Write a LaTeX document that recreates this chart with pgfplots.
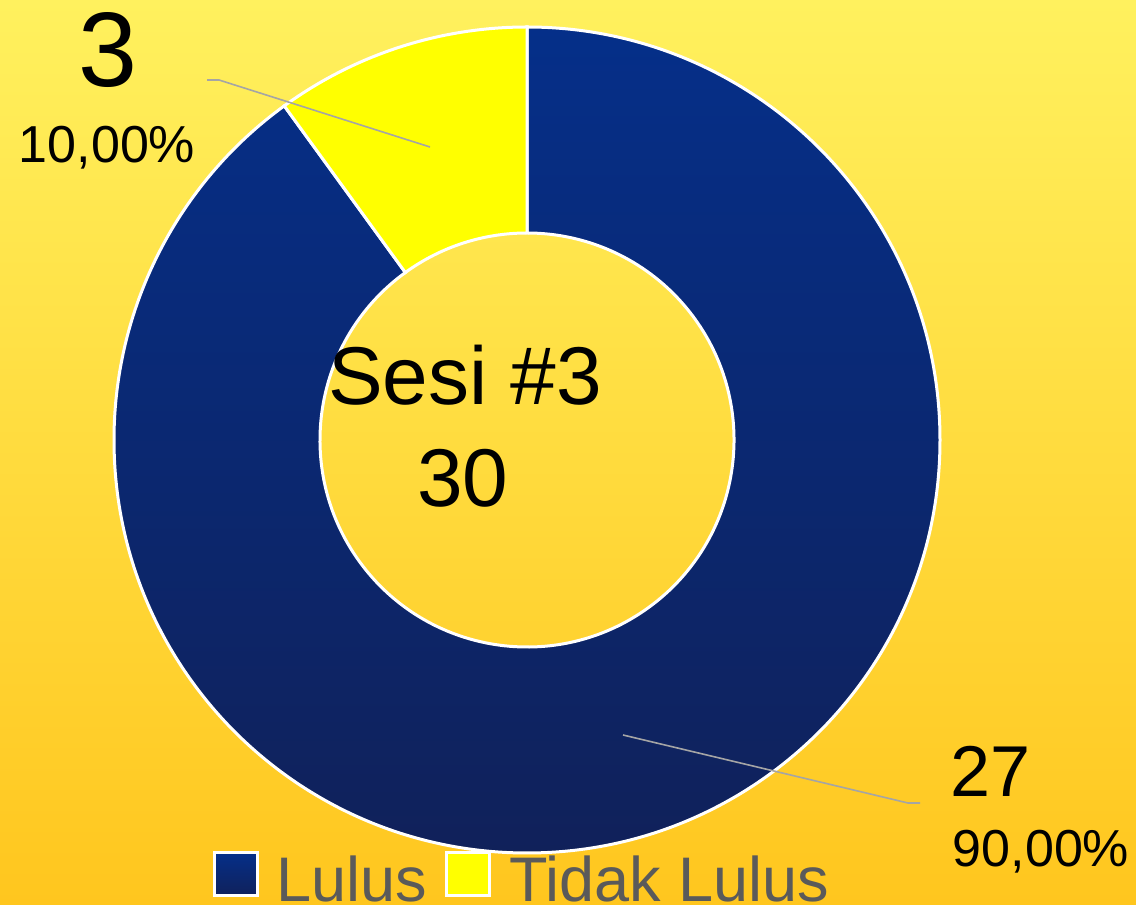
\documentclass[border=0pt]{standalone}
\usepackage{pgfplots}
\pgfplotsset{compat=1.18}
\usepackage{pgfplotstable}
\usepackage{fontspec}
\setmainfont{Liberation Sans}
\definecolor{bgtop}{RGB}{255,241,94}
\definecolor{bgbot}{RGB}{255,198,30}
\definecolor{bluetop}{RGB}{5,47,137}
\definecolor{bluebot}{RGB}{16,33,90}
\definecolor{ylw}{RGB}{255,255,0}
\definecolor{leader}{RGB}{165,165,165}
\definecolor{legtext}{RGB}{90,90,90}
\pgfplotstableread{
label value
Lulus 27
TidakLulus 3
}\datatable
\begin{document}
\begin{tikzpicture}
\pgfplotstablegetelem{0}{value}\of\datatable \let\vA\pgfplotsretval
\pgfplotstablegetelem{1}{value}\of\datatable \let\vB\pgfplotsretval
\pgfmathsetmacro\tot{\vA+\vB}
\pgfmathtruncatemacro\totint{\tot}
\pgfmathsetmacro\angA{90-360*\vA/\tot}
\pgfmathsetmacro\angB{\angA-360*\vB/\tot}
\pgfmathsetmacro\pA{100*\vA/\tot}
\pgfmathsetmacro\pB{100*\vB/\tot}
\begin{axis}[
  scale only axis, x=1pt, y=1pt,
  xmin=0, xmax=1136, ymin=0, ymax=905,
  hide axis,
  clip=false,
  legend columns=2,
  legend style={at={(axis cs:522,27)}, anchor=center, draw=none, fill=none,
    font=\fontsize{63}{63}\selectfont, text=legtext,
    /tikz/every odd column/.append style={column sep=16pt},
    /tikz/every even column/.append style={column sep=16pt},
    cells={anchor=west}},
  legend image code/.code={\draw[#1, line width=3pt] (0pt,-17pt) rectangle (43pt,26pt);},
]
\fill[top color=bgtop, bottom color=bgbot] (axis cs:0,0) rectangle (axis cs:1136,905);
\coordinate (c) at (axis cs:527,465);
% Lulus
\shadedraw[top color=bluetop, bottom color=bluebot, draw=white, line width=3pt]
  (c) ++(90:413pt) arc[start angle=90, end angle=\angA, radius=413pt]
  -- ++(\angA:-206pt) arc[start angle=\angA, end angle=90, radius=207pt] -- cycle;
% Tidak Lulus
\filldraw[fill=ylw, draw=white, line width=3pt]
  (c) ++(\angA:413pt) arc[start angle=\angA, end angle=\angB, radius=413pt]
  -- ++(\angB:-206pt) arc[start angle=\angB, end angle=\angA, radius=207pt] -- cycle;
% leader lines
\draw[leader, line width=1.6pt] (axis cs:207,825) -- (axis cs:219,825) -- (axis cs:430,758);
\draw[leader, line width=1.6pt] (axis cs:623,170) -- (axis cs:908,102) -- (axis cs:920,102);
% data labels
\node[anchor=base, inner sep=0pt, font=\fontsize{106}{106}\selectfont] at (axis cs:108,818) {\vB};
\node[anchor=base, inner sep=0pt, font=\fontsize{52}{52}\selectfont] at (axis cs:107,742)
  {\pgfmathprintnumber[fixed, fixed zerofill, precision=2, use comma, assume math mode=true]{\pB}\%};
\node[anchor=base, inner sep=0pt, font=\fontsize{72}{72}\selectfont] at (axis cs:991,108) {\vA};
\node[anchor=base, inner sep=0pt, font=\fontsize{52}{52}\selectfont] at (axis cs:1041,38)
  {\pgfmathprintnumber[fixed, fixed zerofill, precision=2, use comma, assume math mode=true]{\pA}\%};
% centre text
\node[anchor=base, inner sep=0pt, font=\fontsize{82}{82}\selectfont] at (axis cs:465,500) {Sesi \#3};
\node[anchor=base, inner sep=0pt, font=\fontsize{82}{82}\selectfont] at (axis cs:463,398) {\totint};
\addlegendimage{top color=bluetop, bottom color=bluebot, draw=white}
\addlegendentry{Lulus}
\addlegendimage{fill=ylw, draw=white}
\addlegendentry{Tidak Lulus}
\end{axis}
\pgfresetboundingbox
\path (0,0) rectangle (1136pt,905pt);
\end{tikzpicture}
\end{document}
